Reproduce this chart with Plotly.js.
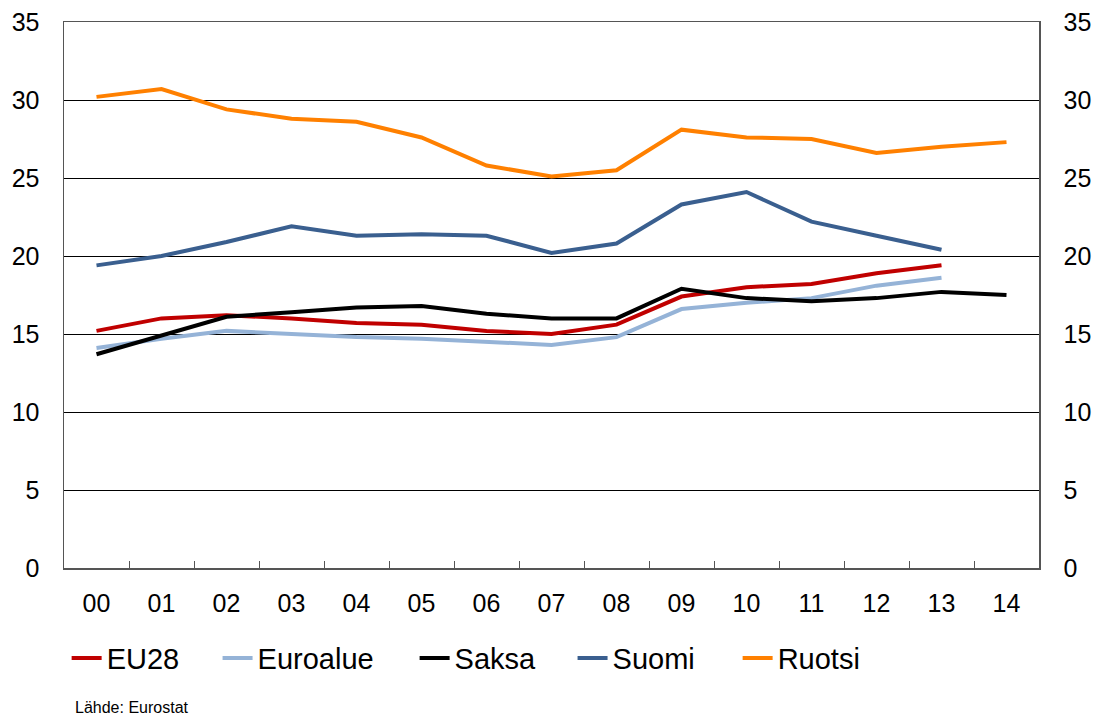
<!DOCTYPE html>
<html>
<head>
<meta charset="utf-8">
<script src="https://cdn.plot.ly/plotly-3.0.1.min.js"></script>
<style>html,body{margin:0;padding:0;background:#fff;}#chart{width:1098px;height:716px;}</style>
</head>
<body>
<div id="chart"></div>
<script>
const years = ["00","01","02","03","04","05","06","07","08","09","10","11","12","13","14"];
const eu28     = [15.2,16.0,16.2,16.0,15.7,15.6,15.2,15.0,15.6,17.4,18.0,18.2,18.9,19.4,null];
const euroalue = [14.1,14.7,15.2,15.0,14.8,14.7,14.5,14.3,14.8,16.6,17.0,17.3,18.1,18.6,null];
const saksa    = [13.7,14.9,16.1,16.4,16.7,16.8,16.3,16.0,16.0,17.9,17.3,17.1,17.3,17.7,17.5];
const suomi    = [19.4,20.0,20.9,21.9,21.3,21.4,21.3,20.2,20.8,23.3,24.1,22.2,21.3,20.4,null];
const ruotsi   = [30.2,30.7,29.4,28.8,28.6,27.6,25.8,25.1,25.5,28.1,27.6,27.5,26.6,27.0,27.3];
const seriesNames = ["EU28","Euroalue","Saksa","Suomi","Ruotsi"];
const seriesData = [eu28, euroalue, saksa, suomi, ruotsi];
const colors = ["#C00000","#95B3D7","#000000","#3A5F8F","#FF8000"];
const legendIds = ["legend","legend2","legend3","legend4","legend5"];
const legendX = [0.0027, 0.1575, 0.3596, 0.5216, 0.6909];

const FONT = "Arial, 'Liberation Sans', sans-serif";
const traces = seriesData.map((d,i)=>({
  x: years, y: d, name: seriesNames[i], type: 'scatter', mode: 'lines',
  line: {color: colors[i], width: 4}, connectgaps: false, legend: legendIds[i]
}));

const layout = {
  width: 1098, height: 716,
  margin: {l: 64, r: 59, t: 22, b: 148},
  paper_bgcolor: '#fff', plot_bgcolor: '#fff',
  font: {family: FONT, color: '#000', size: 25},
  showlegend: true,
  xaxis: {type: 'category', showgrid: false, showline: true, mirror: true, linecolor: '#555', linewidth: 1.5,
          ticks: 'inside', ticklen: 7, tickcolor: '#555', tickson: 'boundaries',
          tickfont: {size: 25}, ticklabelstandoff: 12, range: [-0.5, 14.5], fixedrange: true},
  yaxis: {range: [0, 35], dtick: 5, showgrid: true, gridcolor: '#000', gridwidth: 1,
          showline: true, linecolor: '#555', linewidth: 1.5, ticks: '', zeroline: false,
          tickfont: {size: 25}, ticklabelstandoff: 18},
  yaxis2: {range: [0, 35], dtick: 5, overlaying: 'y', side: 'right', showgrid: false,
           showline: true, linecolor: '#555', linewidth: 1.5, ticks: '', zeroline: false,
           tickfont: {size: 25}, ticklabelstandoff: 18},
  annotations: [{text: 'Lähde: Eurostat', xref: 'paper', yref: 'paper', x: 0.009, y: -0.2564,
                 xanchor: 'left', yanchor: 'middle', showarrow: false,
                 font: {size: 16, family: FONT, color: '#000'}}]
};
legendIds.forEach((id,i)=>{
  layout[id] = {orientation: 'h', x: legendX[i], xanchor: 'left', y: -0.165, yanchor: 'middle',
                font: {size: 29, family: FONT, color: '#000'}, itemwidth: 30, bgcolor: 'rgba(0,0,0,0)'};
});
// invisible trace to anchor right axis
traces.push({x: years, y: saksa, yaxis: 'y2', type: 'scatter', mode: 'lines',
             line: {width: 0}, showlegend: false, hoverinfo: 'skip', opacity: 0});
Plotly.newPlot('chart', traces, layout, {staticPlot: true});
</script>
</body>
</html>
